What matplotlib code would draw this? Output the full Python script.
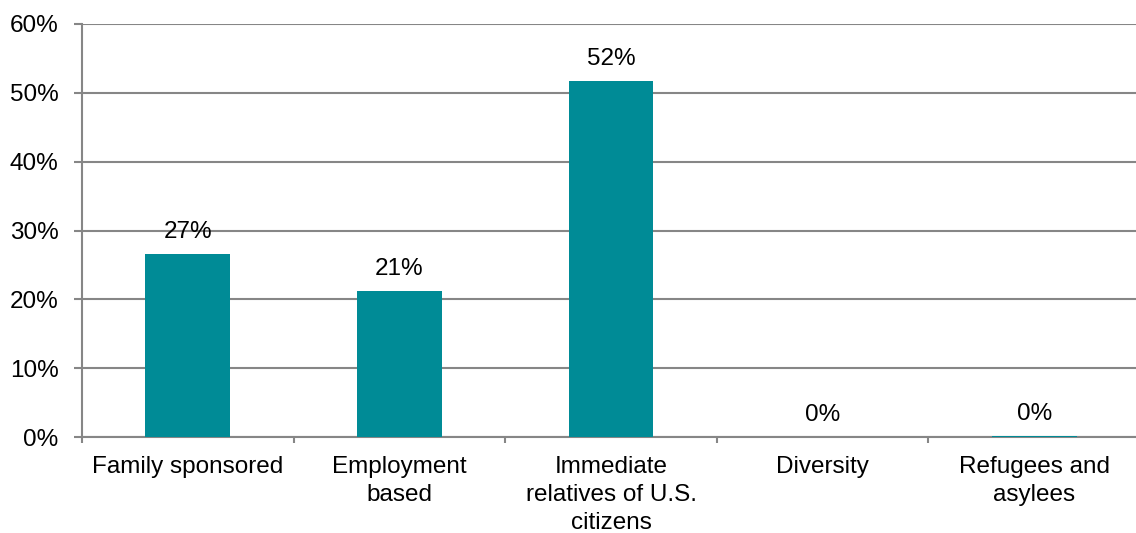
import matplotlib.pyplot as plt
from matplotlib.ticker import PercentFormatter, FixedLocator

plt.rcParams['font.family'] = ['Liberation Sans', 'DejaVu Sans']

categories = ['Family sponsored', 'Employment\nbased', 'Immediate\nrelatives of U.S.\ncitizens',
              'Diversity', 'Refugees and\nasylees']
values = [26.6, 21.2, 51.7, 0.0, 0.1]
labels = ['27%', '21%', '52%', '0%', '0%']

grid_color = '#868686'
bar_color = '#008B96'
fs = 17.5

fig = plt.figure(figsize=(11.36, 5.33), dpi=100)
ax = fig.add_axes([82 / 1136, 1 - 437 / 533, (1140 - 82) / 1136, (437 - 24) / 533])

x = range(len(categories))
ax.bar(x, values, width=0.4, color=bar_color, zorder=3)

for xi, v, lab in zip(x, values, labels):
    ax.text(xi, v + 1.6, lab, ha='center', va='bottom', fontsize=fs, color='black')

ax.set_xlim(-0.5, len(categories) - 0.5)
ax.set_ylim(0, 60)
ax.set_yticks(range(0, 61, 10))
ax.yaxis.set_major_formatter(PercentFormatter(decimals=0))
ax.grid(axis='y', color=grid_color, linewidth=1.5, zorder=0)

ax.set_xticks(list(x))
ax.set_xticklabels(categories, fontsize=fs, linespacing=1.35)
ax.tick_params(axis='x', length=0, pad=14)
ax.xaxis.set_minor_locator(FixedLocator([i - 0.5 for i in range(len(categories) + 1)]))
ax.tick_params(axis='x', which='minor', length=4, width=1.5, color=grid_color)
ax.tick_params(axis='y', length=6, width=1.5, color=grid_color, labelsize=fs, pad=11)

for s in ['top', 'right']:
    ax.spines[s].set_visible(False)
for s in ['left', 'bottom']:
    ax.spines[s].set_color(grid_color)
    ax.spines[s].set_linewidth(1.5)

fig.savefig('out.png', dpi=100)
